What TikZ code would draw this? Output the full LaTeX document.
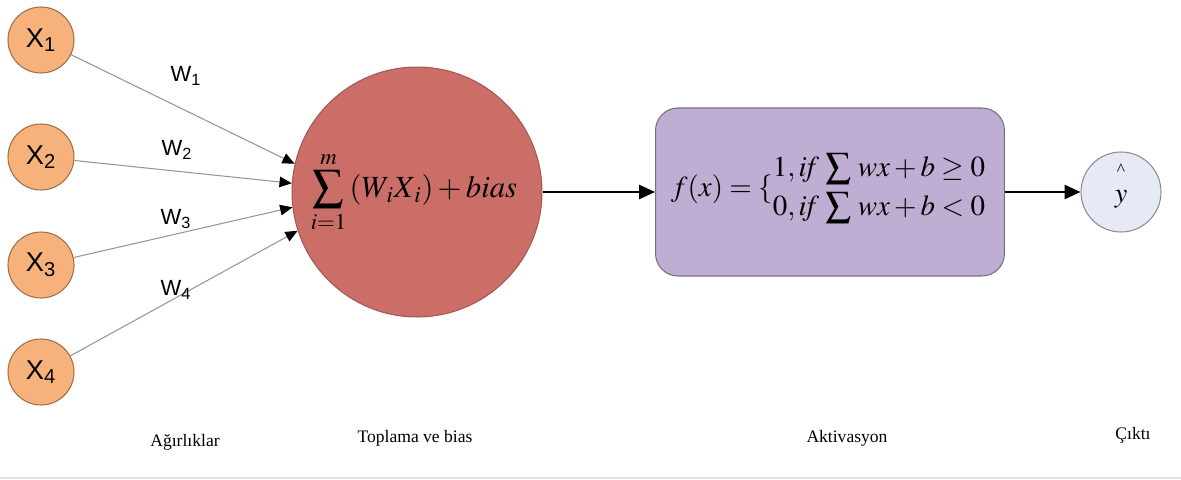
\documentclass[tikz,border=0pt]{standalone}
\usepackage{mathptmx}
\usepackage[no-math]{fontspec}
\setmainfont{Liberation Serif}
\setsansfont{Liberation Sans}
\usetikzlibrary{arrows.meta}
\definecolor{inorange}{RGB}{246,178,122}
\definecolor{inborder}{RGB}{160,110,70}
\definecolor{sumred}{RGB}{204,110,104}
\definecolor{sumborder}{RGB}{160,90,85}
\definecolor{actpurple}{RGB}{191,174,211}
\definecolor{actborder}{RGB}{120,110,130}
\definecolor{outblue}{RGB}{230,234,246}
\definecolor{outborder}{RGB}{140,140,150}
\definecolor{wline}{RGB}{150,150,150}
\newcommand{\bigsum}{\mathop{\vcenter{\hbox{\scalebox{1.25}{$\sum$}}}}}
\tikzset{
  inputnode/.style={circle, draw=inborder, fill=inorange, line width=0.6pt, minimum size=1.32cm, inner sep=0pt, font=\sffamily\fontsize{15.5}{18}\selectfont},
  sumnode/.style={circle, draw=sumborder, fill=sumred, line width=0.6pt, minimum size=5cm, inner sep=0pt},
  actnode/.style={rectangle, rounded corners=0.45cm, draw=actborder, fill=actpurple, line width=0.6pt, minimum width=6.98cm, minimum height=3.36cm, inner sep=0pt},
  outnode/.style={circle, draw=outborder, fill=outblue, line width=0.6pt, minimum size=1.6cm, inner sep=0pt},
  wlabel/.style={font=\sffamily\fontsize{12.5}{14}\selectfont, inner sep=1pt},
  caption/.style={font=\fontsize{10}{12}\selectfont},
  warrow/.style={draw=wline, line width=0.6pt, -{Triangle[length=7pt,width=6pt,black]}},
  mainarrow/.style={draw=black, line width=1.2pt, -{Triangle[length=9pt,width=8pt]}}
}
\begin{document}
\begin{tikzpicture}[x=0.02cm,y=-0.02cm]
\useasboundingbox (0,0) rectangle (1181,480);
\node[inputnode] (x1) at (41,40) {X\textsubscript{1}};
\node[inputnode] (x2) at (41,157) {X\textsubscript{2}};
\node[inputnode] (x3) at (41,265) {X\textsubscript{3}};
\node[inputnode] (x4) at (41,372) {X\textsubscript{4}};
\node[sumnode] (sum) at (417,192) {};
\node[font=\fontsize{17.5}{19}\selectfont, inner sep=0pt] (sumtext) at (414,192) {$\displaystyle\sum_{i=1}^{m}\,(W_{\,i}X_{\,i})+bias$};
\node[actnode] (act) at (830,192) {};
\node[font=\fontsize{16.5}{19}\selectfont, inner sep=0pt] (acttext) at (828,189) {$f(x)=\{\renewcommand{\arraystretch}{1.0}\begin{array}{@{}l@{}}1,\mathit{if}\,\bigsum\, wx+b\geq 0\\[3pt] 0,\mathit{if}\,\bigsum\, wx+b<0\end{array}$};
\node[outnode] (out) at (1121,192) {};
\node[font=\fontsize{10}{11}\selectfont, inner sep=0pt] (hat) at (1121,170) {\textasciicircum};
\node[font=\fontsize{16}{17}\selectfont, inner sep=0pt] (yy) at (1121,199) {$y$};
\draw[warrow] (x1) -- (sum.167);
\draw[warrow] (x2) -- (sum.176);
\draw[warrow] (x3) -- (sum.187);
\draw[warrow] (x4) -- (sum.198);
\node[wlabel] (w1) at (186,76) {W\textsubscript{1}};
\node[wlabel] (w2) at (177,150) {W\textsubscript{2}};
\node[wlabel] (w3) at (176,219) {W\textsubscript{3}};
\node[wlabel] (w4) at (176,290) {W\textsubscript{4}};
\draw[mainarrow] (sum) -- (act);
\draw[mainarrow] (act) -- (out);
\node[caption] (c1) at (185,442) {Ağırlıklar};
\node[caption] (c2) at (415,438) {Toplama ve bias};
\node[caption] (c3) at (847,438) {Aktivasyon};
\node[caption] (c4) at (1133,435) {Çıktı};
\coordinate (bl) at (0,478);
\coordinate (br) at (1181,478);
\draw[black!12, line width=0.6pt] (bl) -- (br);
\end{tikzpicture}
\end{document}
